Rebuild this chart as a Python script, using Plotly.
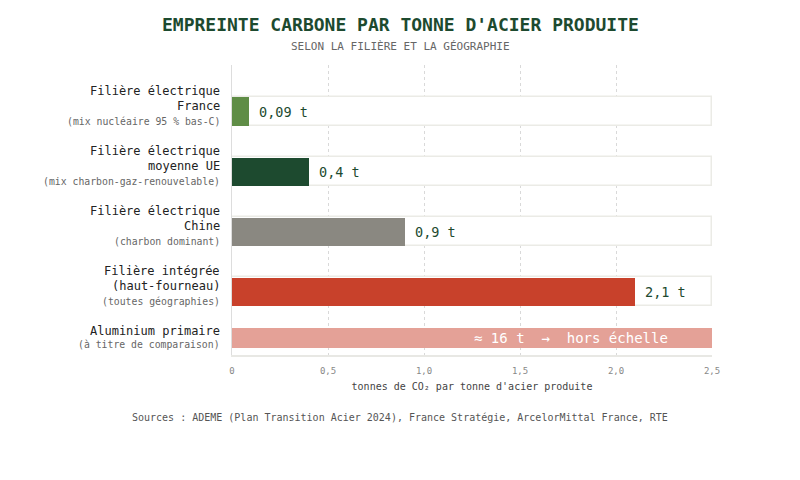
import plotly.graph_objects as go

# données
categories = ["France", "UE", "Chine", "Integree", "Aluminium"]
label_main = [
    ["Filière électrique", "France"],
    ["Filière électrique", "moyenne UE"],
    ["Filière électrique", "Chine"],
    ["Filière intégrée", "(haut-fourneau)"],
    ["Aluminium primaire"],
]
label_sub = [
    "(mix nucléaire 95 % bas-C)",
    "(mix charbon-gaz-renouvelable)",
    "(charbon dominant)",
    "(toutes géographies)",
    "(à titre de comparaison)",
]
values = [0.09, 0.4, 0.9, 2.1, 16]
colors = ["#5f8d46", "#1d4a2f", "#8a8881", "#c8412b", "#e4a197"]
tick_vals = [0, 0.5, 1.0, 1.5, 2.0, 2.5]
tick_text = ["0", "0,5", "1,0", "1,5", "2,0", "2,5"]
alu_text = "≈ 16 t\u00a0\u00a0→\u00a0\u00a0hors échelle"
title_text = "EMPREINTE CARBONE PAR TONNE D'ACIER PRODUITE"
subtitle_text = "SELON LA FILIÈRE ET LA GÉOGRAPHIE"
xaxis_title = "tonnes de CO₂ par tonne d'acier produite"
source_text = "Sources : ADEME (Plan Transition Acier 2024), France Stratégie, ArcelorMittal France, RTE"

# mise en page (la page html ajoute une marge de 8 px)
XMAX = 2.5
row_pos = [0, 1, 2, 3, 3.767]
bar_w = [0.467, 0.467, 0.467, 0.467, 0.333]
FONT = "DejaVu Sans Mono"
GREEN = "#1d4a2f"
CENTER_X = 0.35

fig = go.Figure()

# pistes de fond
fig.add_trace(go.Bar(
    x=[XMAX] * 4, y=row_pos[:4], width=[w + 0.03 for w in bar_w[:4]],
    orientation="h", marker=dict(color="#ffffff", line=dict(color="#ebebe6", width=1.5)),
    hoverinfo="skip", showlegend=False,
))
fig.add_trace(go.Bar(
    x=values, y=row_pos, width=bar_w, orientation="h",
    marker=dict(color=colors, line=dict(width=0)),
    hoverinfo="skip", showlegend=False,
))

annotations = []
for i, cat in enumerate(categories):
    main = label_main[i]
    if len(main) == 2:
        offsets = [-20.5, -5.5]
        sub_off = 9.5
    else:
        offsets = [-7]
        sub_off = 7
    for line, off in zip(main, offsets):
        annotations.append(dict(
            x=0, xref="paper", xshift=-10, xanchor="right",
            y=row_pos[i], yref="y", yshift=-off, yanchor="middle",
            text=line, showarrow=False, font=dict(family=FONT, size=12, color="#222222"),
        ))
    annotations.append(dict(
        x=0, xref="paper", xshift=-10, xanchor="right",
        y=row_pos[i], yref="y", yshift=-sub_off, yanchor="middle",
        text=label_sub[i], showarrow=False, font=dict(family=FONT, size=9.8, color="#666666"),
    ))
    if values[i] <= XMAX:
        annotations.append(dict(
            x=values[i], xref="x", xshift=8, xanchor="left",
            y=row_pos[i], yref="y", yanchor="middle",
            text=f"{values[i]:g}".replace(".", ",") + " t", showarrow=False,
            font=dict(family=FONT, size=13.5, color=GREEN),
        ))
    else:
        annotations.append(dict(
            x=XMAX, xref="x", xshift=-42, xanchor="right",
            y=row_pos[i], yref="y", yanchor="middle",
            text=alu_text, showarrow=False,
            font=dict(family=FONT, size=14, color="#ffffff"),
        ))

annotations += [
    dict(x=CENTER_X, xref="paper", y=1.138, yref="paper", yanchor="middle",
         text="<b>" + title_text + "</b>", showarrow=False,
         font=dict(family=FONT, size=18, color=GREEN)),
    dict(x=CENTER_X, xref="paper", y=1.0655, yref="paper", yanchor="middle",
         text=subtitle_text, showarrow=False,
         font=dict(family=FONT, size=11, color="#666666")),
    dict(x=CENTER_X, xref="paper", y=-0.217, yref="paper", yanchor="middle",
         text=source_text, showarrow=False,
         font=dict(family=FONT, size=10, color="#555555")),
]

fig.update_layout(
    width=792, height=472,
    margin=dict(l=224, r=88, t=57, b=125),
    paper_bgcolor="#ffffff", plot_bgcolor="#ffffff",
    barmode="overlay", bargap=0,
    font=dict(family=FONT, color="#333333"),
    xaxis=dict(
        range=[0, XMAX], tickvals=tick_vals, ticktext=tick_text,
        tickfont=dict(family=FONT, size=9, color="#888888"),
        showgrid=True, gridcolor="#d9d9d9", griddash="3px,3px", gridwidth=1,
        zeroline=False, showline=True, linecolor="#e8e8e4", linewidth=2,
        ticks="outside", ticklen=6, tickcolor="rgba(0,0,0,0)",
        title=dict(text=xaxis_title,
                   font=dict(family=FONT, size=10, color="#444444"), standoff=8),
        fixedrange=True,
    ),
    yaxis=dict(
        range=[4.058, -0.775], showticklabels=False, showgrid=False, zeroline=False,
        showline=True, linecolor="#dddddd", linewidth=1, fixedrange=True,
    ),
    annotations=annotations,
)

fig.write_html("out.html")
